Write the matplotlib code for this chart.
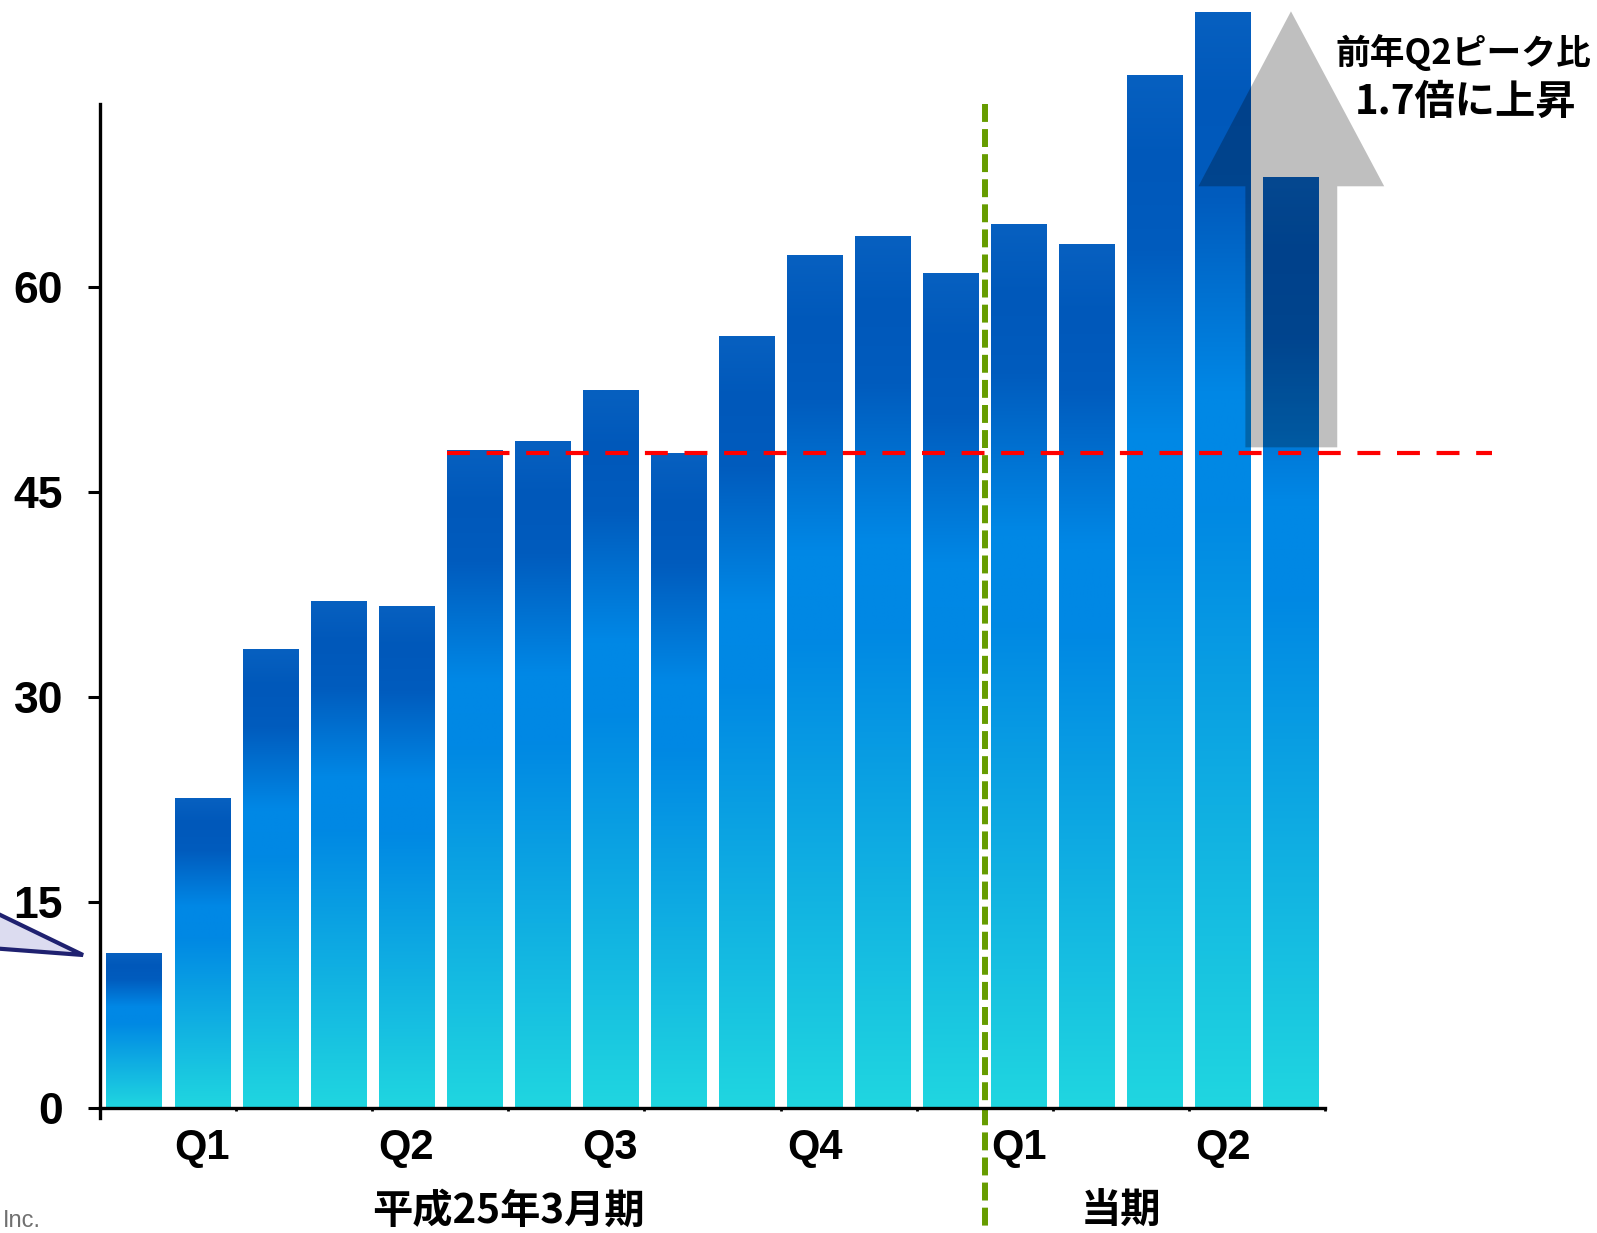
import numpy as np
import matplotlib
matplotlib.use("Agg")
import matplotlib.pyplot as plt
from matplotlib.colors import LinearSegmentedColormap
from matplotlib.patches import Polygon

# monthly values (18 months: 平成25年3月期 Q1..Q4 + 当期 Q1..Q2)
months = np.arange(18)
values = [11.2, 22.6, 33.5, 37.0, 36.6, 48.0, 48.7, 52.4, 47.8,
          56.4, 62.3, 63.7, 61.0, 64.6, 63.1, 75.5, 80.1, 68.0]
quarter_pos = [1, 4, 7, 10, 13, 16]
quarter_labels = ["Q1", "Q2", "Q3", "Q4", "Q1", "Q2"]
period_pos = [5.5, 14.5]
period_labels = ["平成25年3月期", "当期"]
peak_level = 47.9
yticks = [0, 15, 30, 45, 60]

W, H = 1597, 1233
fig = plt.figure(figsize=(W / 100, H / 100), dpi=100)
ax = fig.add_axes([100 / W, 125.5 / H, 1225 / W, 1107.5 / H])

cmap = LinearSegmentedColormap.from_list("bars", [
    (0.0, "#0760c0"), (0.08, "#0058ba"), (0.17, "#005cbe"),
    (0.35, "#0088e6"), (0.45, "#0088e4"), (1.0, "#20d6e0")])
grad = cmap(np.linspace(0, 1, 256))[:, None, :3]

bars = ax.bar(months, values, width=0.81, color="none", edgecolor="none")
for b in bars:
    ax.imshow(grad, extent=[b.get_x(), b.get_x() + b.get_width(), 0, b.get_height()],
              aspect="auto", origin="upper", interpolation="bilinear", zorder=2)

ax.set_xlim(-0.5, 17.5)
ax.set_ylim(0, 81.03)

for s in ["top", "right"]:
    ax.spines[s].set_visible(False)
ax.spines["left"].set_bounds(0, 73.4)
for s in ["left", "bottom"]:
    ax.spines[s].set_linewidth(2.4)
    ax.spines[s].set_zorder(5)

ax.set_yticks(yticks)
ax.set_yticklabels([str(v) for v in yticks], fontsize=32, fontweight="bold",
                   family="Liberation Sans")
ax.tick_params(axis="y", length=8.6, width=2.2, pad=18)

ax.set_xticks(np.arange(-0.5, 18, 2))
ax.set_xticklabels([])
ax.tick_params(axis="x", which="major", length=2.5, width=2)
ax.set_xticks(quarter_pos, minor=True)
ax.set_xticklabels(quarter_labels, minor=True, fontsize=30, fontweight="bold",
                   family="Liberation Sans")
ax.tick_params(axis="x", which="minor", length=0, pad=15)
ax.plot([-0.5, -0.5], [0, -0.75], color="black", lw=2.4, clip_on=False, zorder=5)

# reference lines
ax.plot([4.6, 19.96], [peak_level, peak_level], color="#ff0000", lw=3,
        dashes=(5.5, 4), clip_on=False, zorder=4)
ax.plot([12.5, 12.5], [73.4, -8.7], color="#669c00", lw=4.3,
        dashes=(3, 1.2), clip_on=False, zorder=4)

# up arrow
arrow = Polygon([(17.0, 80.2), (18.37, 67.4), (17.68, 67.4), (17.68, 48.3),
                 (16.33, 48.3), (16.33, 67.4), (15.64, 67.4)], closed=True,
                facecolor="black", alpha=0.25, edgecolor="none",
                clip_on=False, zorder=3)
ax.add_patch(arrow)

cjk = ["Noto Sans CJK JP", "DejaVu Sans"]
fig.text(1463 / W, 1 - 53 / H, "前年Q2ピーク比", fontsize=25, fontweight="bold",
         family=cjk, ha="center", va="center")
fig.text(1465 / W, 1 - 102 / H, "1.7倍に上昇", fontsize=29, fontweight="bold",
         family=cjk, ha="center", va="center")

for p, lab in zip(period_pos, period_labels):
    xf = ax.transData.transform((p, 0))[0] / W
    fig.text(xf, 1 - 1211 / H, lab, fontsize=29, fontweight="bold",
             family=cjk, ha="center", va="center")

fig.text(3 / W, 1 - 1221 / H, "Inc.", fontsize=17, color="#707070",
         family="Liberation Sans", ha="left", va="center")

# callout pointer on the left edge
tri = Polygon([(-10 / W, 1 - 910 / H), (83 / W, 1 - 955 / H), (-10 / W, 1 - 948 / H)],
              closed=True, facecolor="#dcdcf0", edgecolor="#1f2170", lw=3,
              transform=fig.transFigure)
fig.add_artist(tri)

fig.savefig("out.png", dpi=100)
